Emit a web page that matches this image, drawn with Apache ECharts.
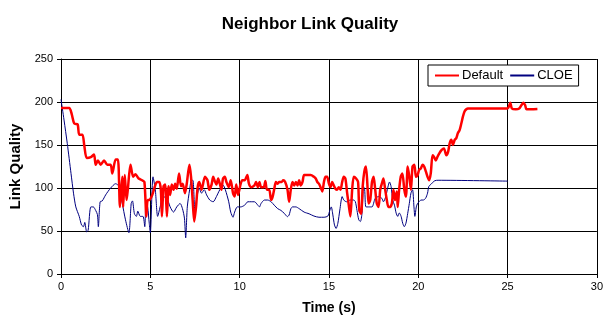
<!DOCTYPE html>
<html><head><meta charset="utf-8">
<script src="https://cdn.jsdelivr.net/npm/echarts@6/dist/echarts.min.js"></script>
<style>html,body{margin:0;padding:0;background:#fff}#c{width:606px;height:322px}</style>
</head><body><div id="c"></div>
<script>
const chartTitle = 'Neighbor Link Quality';
const xName = 'Time (s)';
const yName = 'Link Quality';
const seriesNames = ['Default', 'CLOE'];

const defaultT = [0,0.46,0.6,0.74,0.93,1.02,1.2,1.3,1.44,1.67,1.85,1.94,2.07,2.22,2.41,2.59,2.78,2.87,3.06,3.19,3.3,3.43,3.48,3.57,3.67,3.74,3.89,4.04,4.17,4.35,4.54,4.67,4.78,4.85,4.94,5.09,5.2,5.37,5.5,5.59,5.65,5.74,5.83,5.93,6.02,6.11,6.2,6.3,6.39,6.48,6.61,6.72,6.81,6.94,7.04,7.19,7.28,7.37,7.46,7.56,7.65,7.74,7.87,8.06,8.2,8.3,8.43,8.52,8.61,8.7,8.8,8.89,8.98,9.07,9.17,9.26,9.39,9.5,9.63,9.72,9.81,9.91,10.06,10.15,10.28,10.43,10.52,10.65,10.83,10.92,11.02,11.11,11.2,11.35,11.44,11.53,11.66,11.76,11.85,11.94,12.03,12.13,12.22,12.35,12.44,12.55,12.68,12.77,12.87,12.96,13.05,13.15,13.24,13.33,13.42,13.52,13.61,13.79,13.98,14.16,14.26,14.35,14.44,14.53,14.63,14.72,14.81,14.9,15.0,15.09,15.18,15.27,15.37,15.46,15.55,15.65,15.74,15.83,15.92,16.02,16.11,16.2,16.3,16.39,16.52,16.63,16.7,16.8,16.89,16.98,17.07,17.17,17.22,17.31,17.41,17.5,17.59,17.68,17.78,17.87,17.96,18.05,18.15,18.24,18.33,18.42,18.52,18.61,18.7,18.8,18.85,18.93,19.02,19.11,19.22,19.31,19.41,19.5,19.59,19.68,19.78,19.87,19.96,20.05,20.15,20.24,20.33,20.43,20.52,20.61,20.7,20.8,20.89,20.98,21.07,21.17,21.3,21.44,21.57,21.67,21.76,21.85,21.94,22.04,22.13,22.22,22.31,22.41,22.5,22.59,22.69,22.78,25.0,25.15,25.24,25.46,25.65,25.78,25.89,25.98,26.07,26.67];
const defaultQ = [193,193,186,175,174,162,162,150,135,136,139,127,132,127,132,127,127,117,133,133,78,113,78,115,86,98,127,113,116,111,109,107,67,86,86,91,98,107,107,98,67,102,104,67,102,92,104,98,105,99,117,102,105,94,105,127,113,86,61,78,101,107,98,113,109,98,104,113,108,104,111,105,98,111,113,107,101,109,94,90,104,92,105,109,109,115,105,101,103,107,101,107,101,101,108,98,98,86,90,99,107,105,107,107,109,107,98,84,99,107,103,107,103,109,103,107,115,115,115,113,111,107,105,101,96,107,113,113,105,101,107,103,99,98,101,98,107,113,111,94,80,67,98,113,111,107,74,70,102,119,125,98,82,86,107,113,98,82,78,98,105,111,98,86,78,78,82,98,86,96,78,98,113,117,98,90,125,113,98,125,127,113,115,121,123,127,125,119,113,109,117,138,136,132,136,140,144,146,138,142,152,156,150,156,158,164,167,175,183,189,191.5,192.5,192.5,199,192.5,191.5,192.5,196.5,199,196.5,191.5,192];

const cloeT = [0,0.17,0.35,0.56,0.7,0.83,1.02,1.15,1.26,1.33,1.44,1.52,1.67,1.81,1.94,2.04,2.09,2.19,2.31,2.5,2.78,3.06,3.24,3.43,3.61,3.8,3.93,4.0,4.11,4.22,4.3,4.44,4.59,4.69,4.76,4.85,4.94,5.0,5.15,5.28,5.41,5.55,5.7,5.93,6.11,6.3,6.48,6.67,6.8,6.91,6.98,7.07,7.2,7.31,7.4,7.5,7.6,7.74,7.87,8.02,8.15,8.33,8.52,8.7,8.89,9.07,9.2,9.39,9.5,9.63,9.72,9.87,10.06,10.28,10.46,10.65,10.83,11.02,11.11,11.2,11.39,11.57,11.76,11.94,12.13,12.31,12.5,12.68,12.77,12.87,12.96,13.15,13.33,13.61,13.89,14.16,14.44,14.72,14.94,15.05,15.13,15.22,15.31,15.4,15.5,15.61,15.74,15.83,15.98,16.2,16.39,16.48,16.57,16.67,16.76,16.85,16.94,17.0,17.07,17.22,17.41,17.59,17.78,17.96,18.05,18.18,18.3,18.39,18.48,18.57,18.67,18.76,18.85,18.94,19.04,19.13,19.22,19.31,19.41,19.5,19.59,19.68,19.76,19.81,19.89,19.96,20.05,20.15,20.28,20.41,20.52,20.59,20.74,20.93,21.11,25.0];
const cloeQ = [203,179,152,117,94,78,67,57,55,60,49,51,78,78,74,69,55,84,85,92,100,105,102,82,63,48,82,85,70,67,73,67,67,55,84,78,59,48,113,98,67,78,90,88,78,72,78,82,76,65,42,78,98,110,108,72,88,100,94,98,92,86,84,90,98,103.5,98,84,72,66,72,78,78,80,84,84,84,80,78,82,86,86,84,80,76,74,70.5,66.7,68.6,76,78,78,76,72,70,67.4,66,66,67.4,74,78,68.6,57,53,59,74.4,90,86,84,86,86,84,74,63,61,70.5,101.6,98,78,78,78,88,90,88,84,90,101,107,101.6,86,80,71,67,71,67,59,55,59,70.5,82,94,98,78,67,78,82,84,86,86,88,94,101.6,105,108.5,109,108];

const xTicks = {min: 0, max: 30, interval: 5};
const yTicks = {min: 0, max: 250, interval: 50};

const zip = (a, b) => a.map((v, i) => [v, b[i]]);
const font = '"Liberation Sans", Arial, sans-serif';

const chart = echarts.init(document.getElementById('c'), null, {renderer: 'canvas'});
chart.setOption({
  backgroundColor: '#fff',
  animation: false,
  title: {
    text: chartTitle, left: 305, top: 11, textAlign: 'center',
    textStyle: {fontFamily: font, fontSize: 17, fontWeight: 'bold', color: '#000'}
  },
  legend: {
    left: 428, top: 65, padding: [4, 6, 4, 6],
    backgroundColor: '#fff', borderColor: '#000', borderWidth: 1, borderRadius: 0,
    itemWidth: 24, itemGap: 6,
    itemStyle: {opacity: 0},
    textStyle: {fontFamily: font, fontSize: 13, color: '#000', padding: [0, 0, 0, -2]},
    data: seriesNames
  },
  grid: {left: 60, right: 6, top: 59, bottom: 48},
  xAxis: {
    type: 'value', min: xTicks.min, max: xTicks.max, interval: xTicks.interval,
    name: xName, nameLocation: 'middle', nameGap: 27,
    nameTextStyle: {fontFamily: font, fontSize: 14, fontWeight: 'bold', color: '#000'},
    axisLine: {show: true, onZero: false, lineStyle: {color: '#000', width: 1}},
    axisTick: {show: true, length: 4, lineStyle: {color: '#000'}},
    axisLabel: {fontFamily: font, fontSize: 11, color: '#000', margin: 7},
    splitLine: {show: true, lineStyle: {color: '#000', width: 1}}
  },
  yAxis: {
    type: 'value', min: yTicks.min, max: yTicks.max, interval: yTicks.interval,
    name: yName, nameLocation: 'middle', nameGap: 38, nameRotate: 90,
    nameTextStyle: {fontFamily: font, fontSize: 15, fontWeight: 'bold', color: '#000'},
    axisLine: {show: true, lineStyle: {color: '#000', width: 1}},
    axisTick: {show: true, length: 4, lineStyle: {color: '#000'}},
    axisLabel: {fontFamily: font, fontSize: 11, color: '#000', margin: 8},
    splitLine: {show: true, lineStyle: {color: '#000', width: 1}}
  },
  series: [
    {
      name: seriesNames[0], type: 'line', data: zip(defaultT, defaultQ),
      symbol: 'none', smooth: 0.25, color: '#ff0000',
      lineStyle: {color: '#ff0000', width: 2.5}, z: 3
    },
    {
      name: seriesNames[1], type: 'line', data: zip(cloeT, cloeQ),
      symbol: 'none', smooth: 0.25, color: '#000080',
      lineStyle: {color: '#000080', width: 1}, z: 2
    }
  ]
});
</script></body></html>
